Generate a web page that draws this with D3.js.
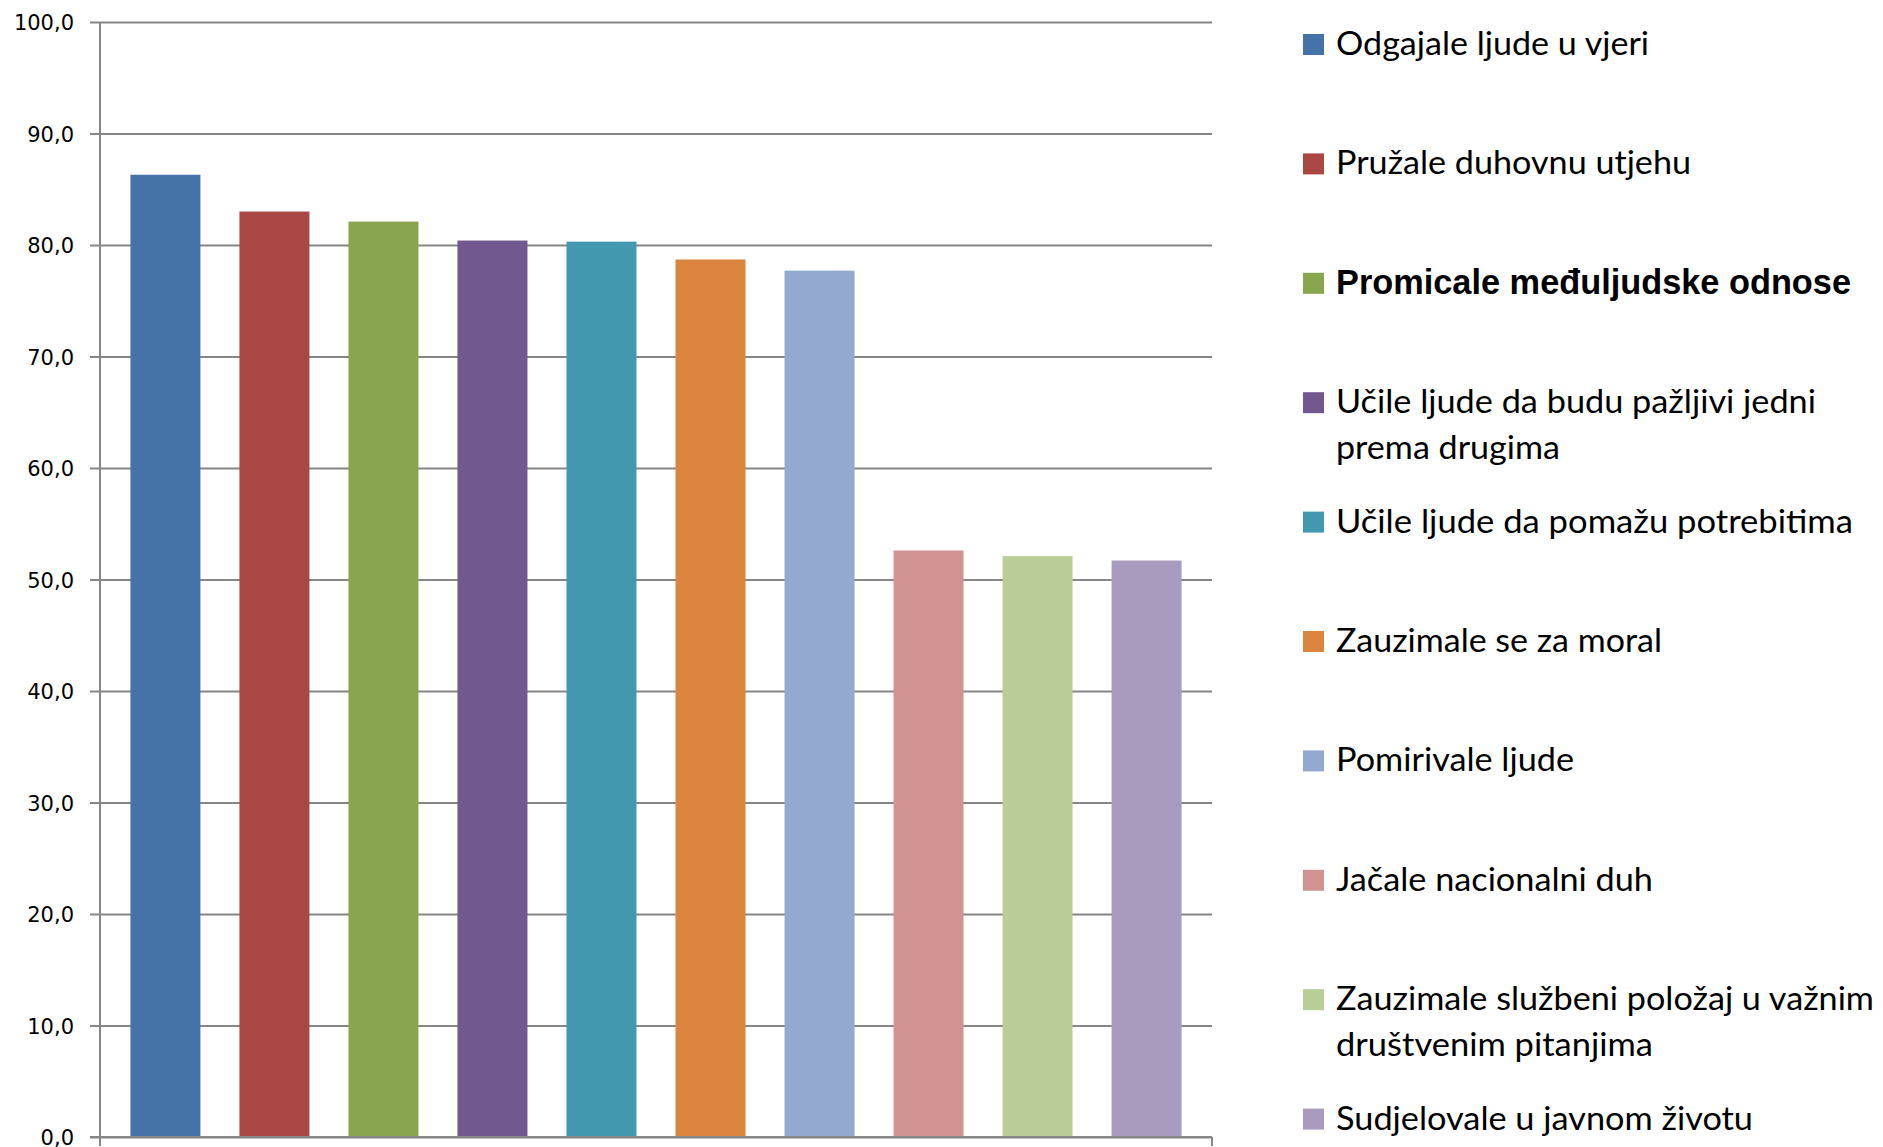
<!DOCTYPE html>
<html><head><meta charset="utf-8">
<script src="https://cdn.jsdelivr.net/npm/d3@7"></script>
<style>html,body{margin:0;padding:0;background:#fff;overflow:hidden}</style>
</head><body>
<svg id="chart" width="1883" height="1147"></svg>
<script>
// ---- data ----
const categories = [
  "Odgajale ljude u vjeri",
  "Pružale duhovnu utjehu",
  "Promicale međuljudske odnose",
  "Učile ljude da budu pažljivi jedni prema drugima",
  "Učile ljude da pomažu potrebitima",
  "Zauzimale se za moral",
  "Pomirivale ljude",
  "Jačale nacionalni duh",
  "Zauzimale službeni položaj u važnim društvenim pitanjima",
  "Sudjelovale u javnom životu"
];
const values = [86.3, 83.0, 82.1, 80.4, 80.3, 78.7, 77.7, 52.6, 52.1, 51.7];
const colors = ["#4572A7", "#AA4643", "#89A54E", "#71588F", "#4198AF",
                "#DB843D", "#93A9CF", "#D19392", "#B9CD96", "#A99BBD"];
const yTicks = [0, 10, 20, 30, 40, 50, 60, 70, 80, 90, 100];
const legendLines = [
  ["Odgajale ljude u vjeri"],
  ["Pružale duhovnu utjehu"],
  ["Promicale međuljudske odnose"],
  ["Učile ljude da budu pažljivi jedni", "prema drugima"],
  ["Učile ljude da pomažu potrebitima"],
  ["Zauzimale se za moral"],
  ["Pomirivale ljude"],
  ["Jačale nacionalni duh"],
  ["Zauzimale službeni položaj u važnim", "društvenim pitanjima"],
  ["Sudjelovale u javnom životu"]
];
const legendBold = [false, false, true, false, false, false, false, false, false, false];

// ---- layout (not data) ----
const plot = {left: 100, right: 1212, top: 22, bottom: 1137};
const legendWidths = [[313], [355], [515], [480, 224], [517], [326], [238], [317], [538, 317], [417]];
const legend = {squareX: 1303, square: 21, textX: 1336, firstBaseline: 55, step: 119.4, lineH: 46};
const gridColor = "#868686";

const svg = d3.select("#chart");

const x = d3.scaleBand().domain(categories)
  .range([plot.left, plot.right]).paddingInner(0.358).paddingOuter(0.279);
const y = d3.scaleLinear().domain([0, 100]).range([plot.bottom, plot.top]);

// gridlines
svg.append("g")
  .attr("transform", `translate(${plot.left},0)`)
  .call(d3.axisLeft(y).tickValues(yTicks).tickSize(-(plot.right - plot.left)).tickFormat(""))
  .call(g => g.select(".domain").remove())
  .call(g => g.selectAll("line").attr("stroke", gridColor).attr("stroke-width", 2));

// bars
svg.append("g").selectAll("rect").data(values).join("rect")
  .attr("x", (d, i) => x(categories[i]))
  .attr("width", x.bandwidth())
  .attr("y", d => y(d))
  .attr("height", d => y(0) - y(d))
  .attr("fill", (d, i) => colors[i]);

// y axis with ticks and labels
const yAxis = svg.append("g")
  .attr("transform", `translate(${plot.left},0)`)
  .call(d3.axisLeft(y).tickValues(yTicks).tickSize(10).tickPadding(16)
    .tickFormat(d => d.toFixed(1).replace(".", ",")));
yAxis.select(".domain").remove();
yAxis.selectAll("line").attr("stroke", gridColor).attr("stroke-width", 2);
yAxis.selectAll("text")
  .attr("font-family", "'DejaVu Sans', Verdana, sans-serif")
  .attr("font-size", 21).attr("fill", "#000").attr("dy", "0.36em");

// axis lines
svg.append("line").attr("x1", plot.left).attr("x2", plot.left)
  .attr("y1", y(100)).attr("y2", y(0) + 9)
  .attr("stroke", gridColor).attr("stroke-width", 2);
svg.append("line").attr("x1", plot.left - 10).attr("x2", plot.right)
  .attr("y1", y(0)).attr("y2", y(0))
  .attr("stroke", gridColor).attr("stroke-width", 2);
svg.append("line").attr("x1", plot.right).attr("x2", plot.right)
  .attr("y1", y(0)).attr("y2", y(0) + 9)
  .attr("stroke", gridColor).attr("stroke-width", 2);

// legend
const lg = svg.append("g");
legendLines.forEach((lines, i) => {
  const base = legend.firstBaseline + legend.step * i;
  lg.append("rect")
    .attr("x", legend.squareX).attr("y", base - legend.square)
    .attr("width", legend.square).attr("height", legend.square)
    .attr("fill", colors[i]);
  lines.forEach((t, j) => {
    const txt = lg.append("text")
      .attr("x", legend.textX).attr("y", base + j * legend.lineH)
      .attr("fill", "#000")
      .attr("textLength", legendWidths[i][j])
      .attr("lengthAdjust", "spacingAndGlyphs")
      .text(t);
    if (legendBold[i]) {
      txt.attr("font-family", "'Liberation Sans', Arial, sans-serif")
        .attr("font-weight", "bold").attr("font-size", 35);
    } else {
      txt.attr("font-family", "Lato, 'Noto Sans', sans-serif")
        .attr("font-size", 32);
    }
  });
});
</script>
</body></html>
